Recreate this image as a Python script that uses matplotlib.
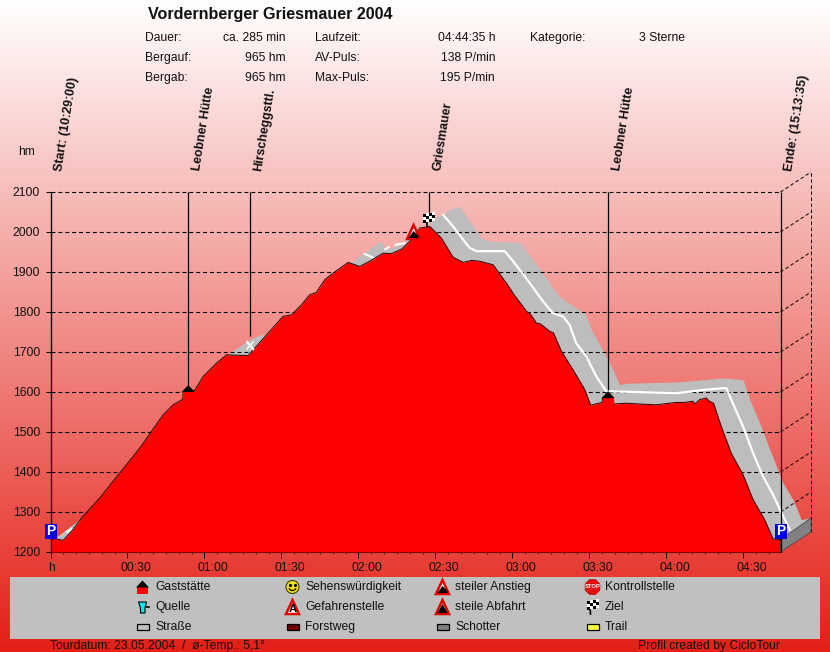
import numpy as np
import matplotlib
matplotlib.use("Agg")
import matplotlib.pyplot as plt
from matplotlib.patches import Polygon, Rectangle, Circle, RegularPolygon, Arc
from matplotlib.transforms import ScaledTranslation

plt.rcParams['font.family'] = ['Liberation Sans', 'DejaVu Sans']

# ---- data ----
profile_t = [0, 2.3, 4.9, 8.2, 12.1, 19.2, 24.4, 29.6, 34.8, 39.4, 43.9, 47.8, 51.6, 51.7, 56.2, 59.5, 64.7, 68.6,
             77, 79.6, 85.5, 90.6, 93.9, 97.8, 101, 103.6, 106.9, 110.1, 116, 120.5, 124.4, 129.6, 132.9, 137,
             140, 143.9, 147.8, 152.3, 156.9, 160.8, 164, 167.3, 172.5, 177.7, 181, 185.5, 187, 189.4, 191,
             194.5, 196, 199.1, 203.6, 208.2, 210.5, 215, 215.1, 219.4, 219.5, 224.4, 229.6, 236.1, 243.9,
             247, 250.4, 251, 253, 255.6, 256.5, 258.4, 261.4, 265.3, 269.9, 273.8, 278.3, 281.6, 284.5]
profile_e = [1232, 1233, 1229, 1252, 1285, 1335, 1377, 1418, 1460, 1502, 1543, 1568, 1582, 1602, 1604, 1639, 1672, 1693,
             1691, 1710, 1752, 1789, 1793, 1818, 1843, 1849, 1881, 1897, 1924, 1914, 1927, 1947, 1946, 1958,
             1977, 2010, 2014, 1985, 1937, 1924, 1929, 1927, 1918, 1872, 1840, 1802, 1795, 1772, 1770,
             1752, 1748, 1702, 1656, 1606, 1567, 1574, 1585, 1585, 1570, 1572, 1570, 1568, 1574,
             1574, 1577, 1570, 1581, 1585, 1578, 1572, 1514, 1447, 1393, 1331, 1281, 1233, 1231]

descent_t = [147.8, 153, 155.6, 159.5, 162.1, 164.7, 167.9, 171.2, 182.9, 185.5, 191.9, 195.8, 198.4, 202.3, 208.2,
             210.8, 216.6, 219.2, 221.8, 224.4, 243.9, 262.1, 269.9, 272.5, 276.4, 280.9, 285.5, 289.4, 292.6, 296.1]
descent_top = [2031, 2043, 2057, 2064, 2039, 2014, 1985, 1977, 1974, 1952, 1897, 1860, 1839, 1821, 1797,
               1756, 1689, 1656, 1618, 1622, 1625, 1635, 1631, 1581, 1522, 1447, 1372, 1331, 1281, 1285]

center_t = [153, 156.9, 160.8, 163.4, 166, 177, 180.3, 186.8, 191.9, 195.8, 199.7, 202.3, 204.9, 208.8, 212.7, 216.6,
            243.9, 255.6, 263.4, 265.3, 269.9, 273.8, 277.7, 281.6, 284.3, 288.1]
center_e = [2043, 2014, 1981, 1960, 1952, 1952, 1927, 1872, 1827, 1797, 1789, 1768, 1722, 1689, 1639, 1602,
            1597, 1606, 1610, 1581, 1514, 1447, 1389, 1343, 1306, 1256]

ascent_parts_t = [[2.3, 12.1], [68.6, 77.7, 81.6, 83.5, 85.5], [116, 117.9, 128.3, 129.6, 130.9, 136.1, 140, 142]]
ascent_parts_top = [[1238, 1285], [1693, 1731, 1743, 1743, 1752], [1924, 1927, 1977, 1968, 1957, 1968, 1985, 1988]]
white_bits_t = [[6.5, 8.2], [122.5, 126], [130.5, 131.8], [134.5, 138]]
white_bits_e = [[1250, 1258], [1945, 1935], [1957, 1962], [1968, 1972]]

wp_t = [0, 53.7, 77.8, 147.6, 217.3, 284.5]
wp_e = [1200, 1618, 1739, 2051, 1604, 1200]
wp_names = ['Start: (10:29:00)', 'Leobner Hütte', 'Hirscheggsttl.', 'Griesmauer', 'Leobner Hütte', 'Ende: (15:13:35)']

y_ticks = [1200, 1300, 1400, 1500, 1600, 1700, 1800, 1900, 2000, 2100]
x_ticks = [0, 30, 60, 90, 120, 150, 180, 210, 240, 270]
x_labels = ['h', '00:30', '01:00', '01:30', '02:00', '02:30', '03:00', '03:30', '04:00', '04:30']

title = 'Vordernberger Griesmauer 2004'
info_col1 = [('Dauer:', 'ca. 285 min'), ('Bergauf:', '965 hm'), ('Bergab:', '965 hm')]
info_col2 = [('Laufzeit:', '04:44:35 h'), ('AV-Puls:', '138 P/min'), ('Max-Puls:', '195 P/min')]
legend_rows = [['Gaststätte', 'Sehenswürdigkeit', 'steiler Anstieg', 'Kontrollstelle'],
               ['Quelle', 'Gefahrenstelle', 'steile Abfahrt', 'Ziel'],
               ['Straße', 'Forstweg', 'Schotter', 'Trail']]

# ---- figure / background ----
W, H = 830, 652
fig = plt.figure(figsize=(W/100, H/100), dpi=100)
bg = fig.add_axes([0, 0, 1, 1], zorder=0)
bg.axis('off')
f = np.linspace(0, 1, 256)[:, None]
top, bot = np.array([1.0, 1.0, 1.0]), np.array([0.895, 0.125, 0.09])
grad = (top[None, None, :] * (1 - f[..., None]) + bot[None, None, :] * f[..., None])
bg.imshow(grad, aspect='auto', extent=[0, 1, 0, 1])

X0, X1, Y0, Y1 = 50.5, 780.5, 552.0, 192.0
ax = fig.add_axes([X0/W, 1 - Y0/H, (X1-X0)/W, (Y0-Y1)/H], zorder=1)
ax.set_facecolor('none')
T_END, DT, DE = 284.5, 11.9, 50
ax.set_xlim(0, T_END)
ax.set_ylim(1200, 2100)
for s in ('top', 'right'):
    ax.spines[s].set_visible(False)
for s in ('left', 'bottom'):
    ax.spines[s].set_linewidth(0.8)

GRAY = '#bdbdbd'
d_t = np.array(descent_t)
d_low = np.where(d_t < T_END, 1200, 1231 + (d_t - T_END) * 54 / DT)
ax.fill_between(d_t, d_low, descent_top, color=GRAY, lw=0, zorder=2, clip_on=False)
for tt, ee in zip(ascent_parts_t, ascent_parts_top):
    ax.fill_between(tt, 1200, ee, color=GRAY, lw=0, zorder=2)

dash = (0, (3.6, 2.6))
ax.hlines(y_ticks[1:], 0, T_END, color='k', lw=0.8, linestyle=dash, zorder=3, clip_on=False)
for e in y_ticks:
    if e > 1200:
        ax.plot([T_END, T_END + DT], [e, e + DE], color='k', lw=0.7, linestyle=dash, zorder=3, clip_on=False)
ax.plot([T_END + DT, T_END + DT], [1250, 2150], color='k', lw=0.7, linestyle=dash, zorder=3, clip_on=False)

ax.plot(center_t, center_e, color='white', lw=1.6, zorder=4, clip_on=False)
for tt, ee in zip(white_bits_t, white_bits_e):
    ax.plot(tt, ee, color='white', lw=1.5, zorder=4)

ax.fill_between(profile_t, 1200, profile_e, color='#ff0000', lw=0, zorder=5)
ax.plot(profile_t, profile_e, color='#300000', lw=0.7, zorder=5.5)
ax.add_patch(Polygon([[T_END, 1200], [T_END + DT, 1250], [T_END + DT, 1285], [T_END, 1231]],
                     closed=True, facecolor='#808080', edgecolor='#404040', lw=0.5, zorder=5, clip_on=False))

ax.vlines(wp_t, wp_e, 2100, color='k', lw=0.9, zorder=6, clip_on=False)

ax.set_yticks(y_ticks)
ax.set_yticklabels([str(v) for v in y_ticks], fontsize=8.7, color='#111111')
ax.tick_params(axis='y', length=3.6, width=0.7, pad=4)
ax.set_xticks(x_ticks)
ax.set_xticks(np.arange(0, 285, 5), minor=True)
ax.set_xticklabels(x_labels, fontsize=8.7, color='#111111')
ax.tick_params(axis='x', which='major', length=4, width=0.7, pad=3)
ax.tick_params(axis='x', which='minor', length=1.5, width=0.5)
for lbl, name in zip(ax.get_xticklabels(), x_labels):
    lbl.set_ha('left')
    dx = -2.0 if name == 'h' else -6.5
    lbl.set_transform(lbl.get_transform() + ScaledTranslation(dx/100, 0, fig.dpi_scale_trans))

for t_, name in zip(wp_t, wp_names):
    ax.annotate(name, xy=(t_, 2100), xytext=(8.5, 21), textcoords='offset pixels',
                rotation=81, rotation_mode='anchor', ha='left', va='center',
                fontsize=9, fontweight='bold', color='#111111', annotation_clip=False)

# ---- overlay in pixel coordinates (texts, panel, icons) ----
ov = fig.add_axes([0, 0, 1, 1], zorder=2)
ov.set_xlim(0, W)
ov.set_ylim(H, 0)
ov.axis('off')
ov.patch.set_alpha(0)


def to_px(t, e):
    return X0 + t * (X1 - X0) / T_END, Y0 - (e - 1200) * (Y0 - Y1) / 900


TXT = dict(fontsize=8.7, color='#111111', va='center')
ov.text(148, 14, title, fontsize=11.6, fontweight='bold', color='#111111', va='center')
for i, (a, b) in enumerate(info_col1):
    y = 38 + 20 * i
    ov.text(145, y, a, **TXT)
    ov.text(285, y, b, ha='right', **TXT)
for i, (a, b) in enumerate(info_col2):
    y = 38 + 20 * i
    ov.text(315, y, a, **TXT)
    ov.text(495, y, b, ha='right', **TXT)
ov.text(530, 38, 'Kategorie:', **TXT)
ov.text(685, 38, '3 Sterne', ha='right', **TXT)
ov.text(18, 152, 'hm', **TXT)
ov.text(50, 646, 'Tourdatum: 23.05.2004  /  ø-Temp.: 5,1°', **TXT)
ov.text(780, 646, 'Profil created by CicloTour', ha='right', **TXT)

ov.add_patch(Rectangle((10, 577), 810, 62, facecolor='#c0c0c0', edgecolor='none', zorder=1))


def tri(x, y, w, h, **kw):
    ov.add_patch(Polygon([[x - w/2, y + h/2], [x + w/2, y + h/2], [x, y - h/2]], closed=True, **kw))


def house(x, y):
    ov.add_patch(Rectangle((x - 5.5, y - 1), 11, 8, facecolor='#ff0000', edgecolor='none', zorder=7))
    tri(x, y - 3, 13, 7, facecolor='k', edgecolor='none', zorder=8)


def steep(x, y, flip=False):
    tri(x, y, 13, 14, facecolor='white', edgecolor='#e00000', lw=1.8, zorder=7, joinstyle='miter')
    if flip:
        pts = [[x - 5, y + 6], [x + 5, y + 6], [x, y - 3]]
    else:
        pts = [[x - 5, y + 6], [x + 5, y + 6], [x + 5, y + 4], [x, y - 1]]
    ov.add_patch(Polygon(pts, closed=True, facecolor='k', edgecolor='none', zorder=8))


def flag(x, y):
    ov.plot([x - 3, x - 2], [y - 4, y + 7], color='k', lw=1.2, zorder=8)
    for r in range(3):
        for c in range(4):
            col = 'k' if (r + c) % 2 == 0 else 'white'
            ov.add_patch(Rectangle((x - 6 + c*3, y - 6 + r*3 - c*0.6), 3, 3,
                                   facecolor=col, edgecolor='none', zorder=8))


def pbox(x, y):
    ov.add_patch(Rectangle((x - 6, y - 8), 12, 15, facecolor='#0000e0', edgecolor='none', zorder=9))
    ov.text(x, y - 1, 'P', color='white', fontsize=10, fontweight='bold', ha='center', va='center', zorder=10)


# legend icons
cols_x = [142.5, 292.5, 442.5, 592.5]
rows_y = [587, 607, 627]
text_x = [155, 305, 455, 605]
for row, y in zip(legend_rows, rows_y):
    for name, tx in zip(row, text_x):
        ov.text(tx, y, name, zorder=3, **TXT)

house(cols_x[0], rows_y[0])
x, y = cols_x[0], rows_y[1]
ov.add_patch(Polygon([[x-4, y-5], [x+4, y-5], [x+2.5, y+1], [x+2.5, y+6], [x-2, y+6], [x-2, y+1]], closed=True,
                     facecolor='#00e8f0', edgecolor='k', lw=0.8, zorder=7))
ov.plot([x+3.5, x+6], [y, y], color='k', lw=1.2, zorder=7)

x, y = cols_x[1], rows_y[0]
ov.add_patch(Circle((x, y), 6.5, facecolor='#f0e020', edgecolor='#404000', lw=0.8, zorder=7))
ov.plot([x-2.2, x+2.2], [y-2, y-2], 'k.', ms=2.5, zorder=8)
ov.add_patch(Arc((x, y), 7.5, 7, theta1=20, theta2=160, color='k', lw=0.9, zorder=8))
x, y = cols_x[1], rows_y[1]
tri(x, y, 13, 14, facecolor='white', edgecolor='#e00000', lw=1.8, zorder=7, joinstyle='miter')
ov.text(x, y + 1.5, 'A', fontsize=8, fontweight='bold', color='k', ha='center', va='center', zorder=8)

steep(cols_x[2], rows_y[0])
steep(cols_x[2], rows_y[1], flip=True)

x, y = cols_x[3], rows_y[0]
ov.add_patch(RegularPolygon((x, y), 8, radius=8, orientation=np.pi/8, facecolor='#e01010', edgecolor='#c00000',
                            lw=0.5, zorder=7))
ov.text(x, y, 'STOP', fontsize=4.2, fontweight='bold', color='white', ha='center', va='center', zorder=8)
flag(cols_x[3], rows_y[1])

swatches = ['#c0c0c0', '#700000', '#808080', '#ffff40']
for x, c in zip(cols_x, swatches):
    ov.add_patch(Rectangle((x - 6, rows_y[2] - 3), 12, 6, facecolor=c, edgecolor='k', lw=0.9, zorder=7))

# waypoint icons on the profile
x, y = to_px(wp_t[1], 1600)
house(x, y - 0.5)
x, y = to_px(wp_t[4], 1586)
house(x, y)
x, y = to_px(wp_t[2], 1715)
ov.plot([x - 3, x + 3], [y - 4, y + 3], color='white', lw=1.6, zorder=8)
ov.plot([x - 3, x + 3], [y + 3, y - 4], color='white', lw=1.0, zorder=8)
x, y = to_px(141.5, 2000)
steep(x, y)
x, y = to_px(wp_t[3], 2030)
flag(x, y)
x, y = to_px(wp_t[0], 1250)
pbox(x, y)
x, y = to_px(wp_t[5], 1250)
pbox(x, y)

fig.savefig('out.png', dpi=100)
